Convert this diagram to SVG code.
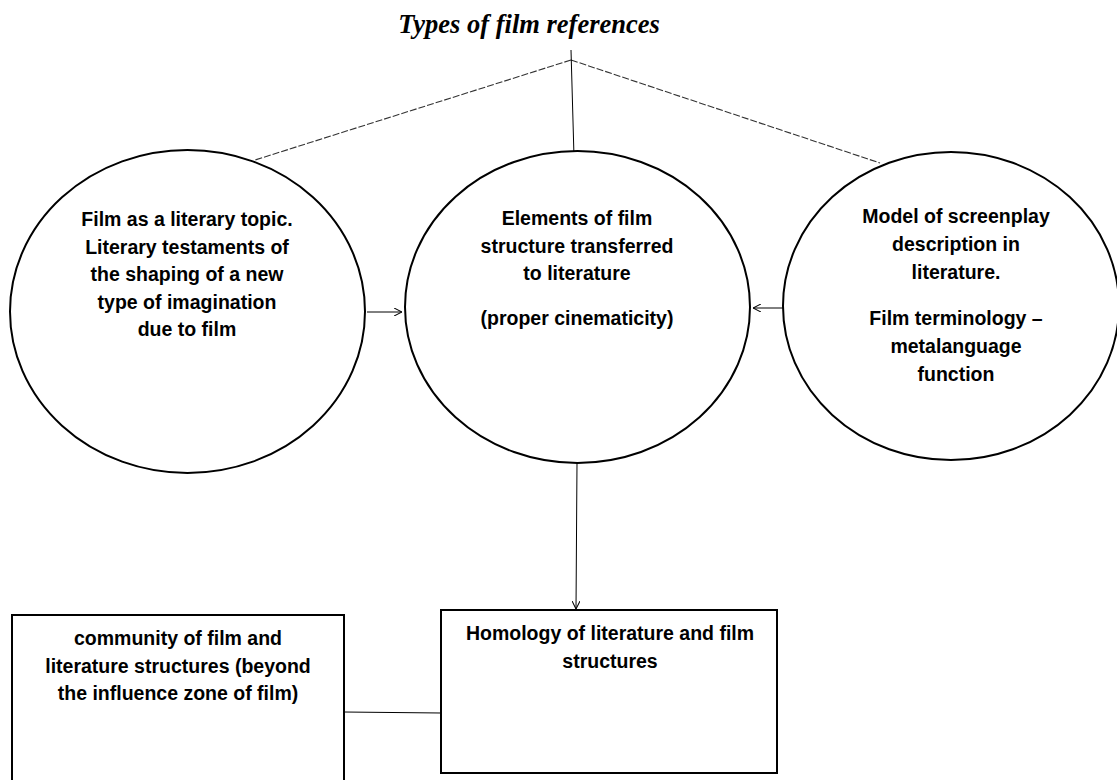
<svg xmlns="http://www.w3.org/2000/svg" width="1117" height="780" viewBox="0 0 1117 780">
<style>
.node{fill:#fff;stroke:#000;stroke-width:2}
.t{font-family:"Liberation Sans",Arial,sans-serif;font-weight:bold;font-size:19.5px;fill:#000;text-anchor:middle}
.title{font-family:"Liberation Serif","Times New Roman",serif;font-weight:bold;font-style:italic;font-size:26.5px;fill:#000;text-anchor:middle}
.ln{stroke:#000;stroke-width:1;fill:none}
.dash{stroke:#333;stroke-width:1.1;fill:none;stroke-dasharray:7 2}
</style>
<defs>
<marker id="arr" viewBox="0 0 10 10" refX="10" refY="5" markerWidth="8" markerHeight="8" markerUnits="userSpaceOnUse" orient="auto">
<path d="M0,0 L10,5 L0,10" fill="none" stroke="#000" stroke-width="1.3"/>
</marker>
</defs>
<rect width="1117" height="780" fill="#fff"/>
<text class="title" x="529" y="33">Types of film references</text>
<g id="connectors">
<line class="dash" x1="571" y1="60" x2="255" y2="160"/>
<line class="dash" x1="571" y1="60" x2="880" y2="163"/>
<line class="ln" x1="571" y1="50" x2="574" y2="157"/>
<line class="ln" x1="367" y1="312" x2="402" y2="312" marker-end="url(#arr)"/>
<line class="ln" x1="783" y1="308" x2="753" y2="308" marker-end="url(#arr)"/>
<line class="ln" x1="577" y1="463" x2="576" y2="609" marker-end="url(#arr)"/>
<line class="ln" x1="344" y1="712" x2="441" y2="713"/>
</g>
<g id="n-literary-topic">
<ellipse class="node" cx="187.5" cy="311.5" rx="177.5" ry="161.5"/>
<text class="t" x="187" y="226">Film as a literary topic.</text>
<text class="t" x="187" y="254">Literary testaments of</text>
<text class="t" x="187" y="281">the shaping of a new</text>
<text class="t" x="187" y="309">type of imagination</text>
<text class="t" x="187" y="336">due to film</text>
</g>
<g id="n-elements">
<ellipse class="node" cx="577.5" cy="307" rx="172.5" ry="156"/>
<text class="t" x="577" y="225">Elements of film</text>
<text class="t" x="577" y="253">structure transferred</text>
<text class="t" x="577" y="280">to literature</text>
<text class="t" x="577" y="325">(proper cinematicity)</text>
</g>
<g id="n-screenplay">
<ellipse class="node" cx="951" cy="306" rx="168" ry="154"/>
<text class="t" x="956" y="223">Model of screenplay</text>
<text class="t" x="956" y="251">description in</text>
<text class="t" x="956" y="279">literature.</text>
<text class="t" x="956" y="325">Film terminology –</text>
<text class="t" x="956" y="353">metalanguage</text>
<text class="t" x="956" y="381">function</text>
</g>
<g id="n-community">
<rect class="node" x="12" y="615" width="332" height="175"/>
<text class="t" x="178" y="645">community of film and</text>
<text class="t" x="178" y="673">literature structures (beyond</text>
<text class="t" x="178" y="700">the influence zone of film)</text>
</g>
<g id="n-homology">
<rect class="node" x="441" y="610" width="336" height="163"/>
<text class="t" x="610" y="640">Homology of literature and film</text>
<text class="t" x="610" y="668">structures</text>
</g>
</svg>
